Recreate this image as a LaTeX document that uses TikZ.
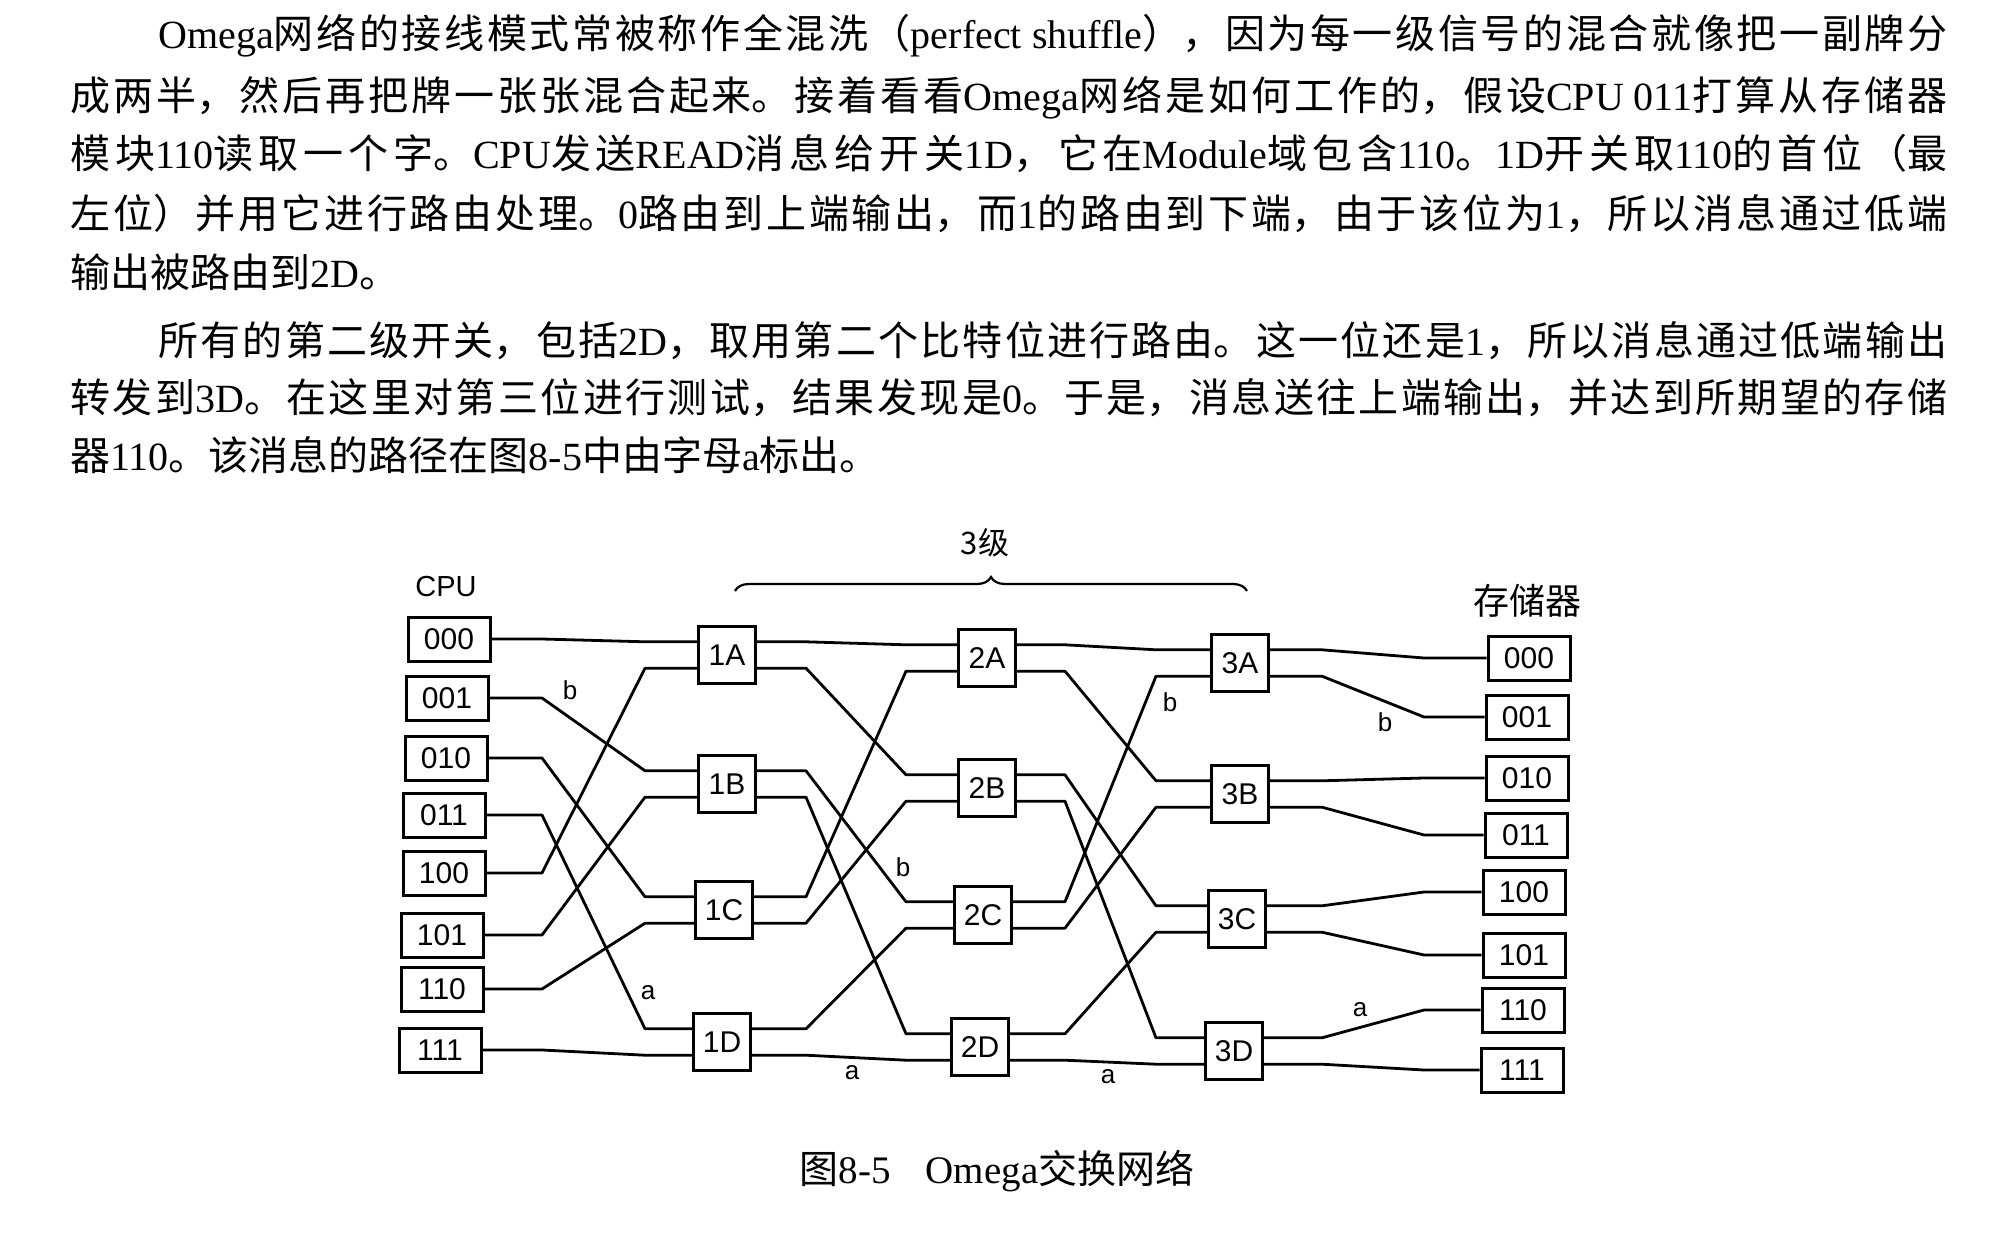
\documentclass[tikz,border=0pt]{standalone}
\usepackage{fontspec}
\setmainfont{Liberation Serif}
\newfontfamily\cjk{Noto Sans CJK SC}
\newfontfamily\sansf{Liberation Sans}
\usetikzlibrary{calc,decorations.pathreplacing}
\newcommand\LL[1]{{\rmfamily #1}}
\newcommand\jline[2]{\parbox[t]{#1}{\fontsize{20}{24}\selectfont\cjk\XeTeXlinebreaklocale "zh"\XeTeXlinebreakskip=0pt plus 1fil\relax\parfillskip=0pt\relax\parindent=0pt\relax #2}}
\newcommand\pline[1]{{\fontsize{20}{24}\selectfont\cjk #1}}
\tikzset{
  cpubox/.style={draw, line width=1.5pt, minimum width=41pt, minimum height=22pt, inner sep=0pt, font=\sansf\fontsize{15}{15}\selectfont},
  swbox/.style={draw, line width=1.5pt, minimum width=28.5pt, minimum height=28.5pt, inner sep=0pt, font=\sansf\fontsize{15}{15}\selectfont},
  wire/.style={line width=1.4pt, line join=round},
  wlab/.style={inner sep=0pt, font=\sansf\fontsize{13}{13}\selectfont},
  head/.style={inner sep=0pt},
  txt/.style={inner sep=0pt, anchor=base west}
}
\begin{document}
\begin{tikzpicture}[x=0.5pt,y=-0.5pt]
\fill[white] (0,0) rectangle (1993,1252);
\useasboundingbox (0,0) rectangle (1993,1252);

% body text
\node[txt] (t1) at (158,49) {\jline{894.5pt}{\LL{Omega}网络的接线模式常被称作全混洗（\LL{perfect shuffle}），因为每一级信号的混合就像把一副牌分}};
\node[txt] (t2) at (70,110.5) {\jline{938.5pt}{成两半，然后再把牌一张张混合起来。接着看看\LL{Omega}网络是如何工作的，假设\LL{CPU 011}打算从存储器}};
\node[txt] (t3) at (70,169) {\jline{938.5pt}{模块\LL{110}读取一个字。\LL{CPU}发送\LL{READ}消息给开关\LL{1D}，它在\LL{Module}域包含\LL{110}。\LL{1D}开关取\LL{110}的首位（最}};
\node[txt] (t4) at (70,228.5) {\jline{938.5pt}{左位）并用它进行路由处理。\LL{0}路由到上端输出，而\LL{1}的路由到下端，由于该位为\LL{1}，所以消息通过低端}};
\node[txt] (t5) at (70,287) {\pline{输出被路由到\LL{2D}。}};
\node[txt] (t6) at (158,355) {\jline{894.5pt}{所有的第二级开关，包括\LL{2D}，取用第二个比特位进行路由。这一位还是\LL{1}，所以消息通过低端输出}};
\node[txt] (t7) at (70,412) {\jline{938.5pt}{转发到\LL{3D}。在这里对第三位进行测试，结果发现是\LL{0}。于是，消息送往上端输出，并达到所期望的存储}};
\node[txt] (t8) at (70,470) {\pline{器\LL{110}。该消息的路径在图\LL{8-5}中由字母\LL{a}标出。}};

% headings
\node[head, font=\sansf\fontsize{14.5}{15}\selectfont] (cpu) at (446,587) {CPU};
\node[head, font=\cjk\fontsize{18}{18}\selectfont] (mem) at (1527,601) {存储器};
\node[head, font=\cjk\fontsize{15.5}{16}\selectfont] (lvl) at (985,543) {3级};
\draw[line width=1.1pt, decorate, decoration={brace, amplitude=7pt}] (735,591) -- (1247,591);

% CPU boxes
\node[cpubox] (c000) at (449,639) {000};
\node[cpubox] (c001) at (447,698) {001};
\node[cpubox] (c010) at (446,758) {010};
\node[cpubox] (c011) at (444,815) {011};
\node[cpubox] (c100) at (444,873) {100};
\node[cpubox] (c101) at (442,935) {101};
\node[cpubox] (c110) at (442,989) {110};
\node[cpubox] (c111) at (440,1050) {111};

% memory boxes
\node[cpubox] (m000) at (1529,658) {000};
\node[cpubox] (m001) at (1527,717) {001};
\node[cpubox] (m010) at (1527,778) {010};
\node[cpubox] (m011) at (1526,835) {011};
\node[cpubox] (m100) at (1524,892) {100};
\node[cpubox] (m101) at (1524,955) {101};
\node[cpubox] (m110) at (1523,1010) {110};
\node[cpubox] (m111) at (1522,1070) {111};

% switches
\node[swbox] (s1a) at (727,655) {1A};
\node[swbox] (s1b) at (727,784) {1B};
\node[swbox] (s1c) at (724,910) {1C};
\node[swbox] (s1d) at (722,1042) {1D};
\node[swbox] (s2a) at (987,658) {2A};
\node[swbox] (s2b) at (987,788) {2B};
\node[swbox] (s2c) at (983,915) {2C};
\node[swbox] (s2d) at (980,1047) {2D};
\node[swbox] (s3a) at (1240,663) {3A};
\node[swbox] (s3b) at (1240,794) {3B};
\node[swbox] (s3c) at (1237,919) {3C};
\node[swbox] (s3d) at (1234,1051) {3D};

\foreach \n in {s1a,s1b,s1c,s1d,s2a,s2b,s2c,s2d,s3a,s3b,s3c,s3d}{
  \coordinate (\n-iu) at ($(\n.north west)!0.28!(\n.south west)$);
  \coordinate (\n-il) at ($(\n.north west)!0.72!(\n.south west)$);
  \coordinate (\n-ou) at ($(\n.north east)!0.28!(\n.south east)$);
  \coordinate (\n-ol) at ($(\n.north east)!0.72!(\n.south east)$);
}

% bend columns
\coordinate (g0a) at (542,0);  \coordinate (g0b) at (645,0);
\coordinate (g1a) at (806,0);  \coordinate (g1b) at (906,0);
\coordinate (g2a) at (1065,0); \coordinate (g2b) at (1156,0);
\coordinate (g3a) at (1322,0); \coordinate (g3b) at (1424,0);

% CPU -> stage 1
\foreach \s/\t in {c000.east/s1a-iu, c001.east/s1b-iu, c010.east/s1c-iu, c011.east/s1d-iu,
                   c100.east/s1a-il, c101.east/s1b-il, c110.east/s1c-il, c111.east/s1d-il}{
  \draw[wire] (\s) -- (\s -| g0a) -- (\t -| g0b) -- (\t);
}
% stage 1 -> stage 2
\foreach \s/\t in {s1a-ou/s2a-iu, s1a-ol/s2b-iu, s1b-ou/s2c-iu, s1b-ol/s2d-iu,
                   s1c-ou/s2a-il, s1c-ol/s2b-il, s1d-ou/s2c-il, s1d-ol/s2d-il}{
  \draw[wire] (\s) -- (\s -| g1a) -- (\t -| g1b) -- (\t);
}
% stage 2 -> stage 3
\foreach \s/\t in {s2a-ou/s3a-iu, s2a-ol/s3b-iu, s2b-ou/s3c-iu, s2b-ol/s3d-iu,
                   s2c-ou/s3a-il, s2c-ol/s3b-il, s2d-ou/s3c-il, s2d-ol/s3d-il}{
  \draw[wire] (\s) -- (\s -| g2a) -- (\t -| g2b) -- (\t);
}
% stage 3 -> memory
\foreach \s/\t in {s3a-ou/m000.west, s3a-ol/m001.west, s3b-ou/m010.west, s3b-ol/m011.west,
                   s3c-ou/m100.west, s3c-ol/m101.west, s3d-ou/m110.west, s3d-ol/m111.west}{
  \draw[wire] (\s) -- (\s -| g3a) -- (\t -| g3b) -- (\t);
}

% path labels
\node[wlab] (b1) at (570,690) {b};
\node[wlab] (b2) at (903,867) {b};
\node[wlab] (b3) at (1170,702) {b};
\node[wlab] (b4) at (1385,722) {b};
\node[wlab] (a1) at (648,993) {a};
\node[wlab] (a2) at (852,1073) {a};
\node[wlab] (a3) at (1108,1077) {a};
\node[wlab] (a4) at (1360,1010) {a};

% caption
\node[head] (cap) at (997,1171) {\fontsize{19.5}{20}\selectfont{\cjk 图}8-5\hspace{0.9em}Omega{\cjk 交换网络}};
\end{tikzpicture}
\end{document}
